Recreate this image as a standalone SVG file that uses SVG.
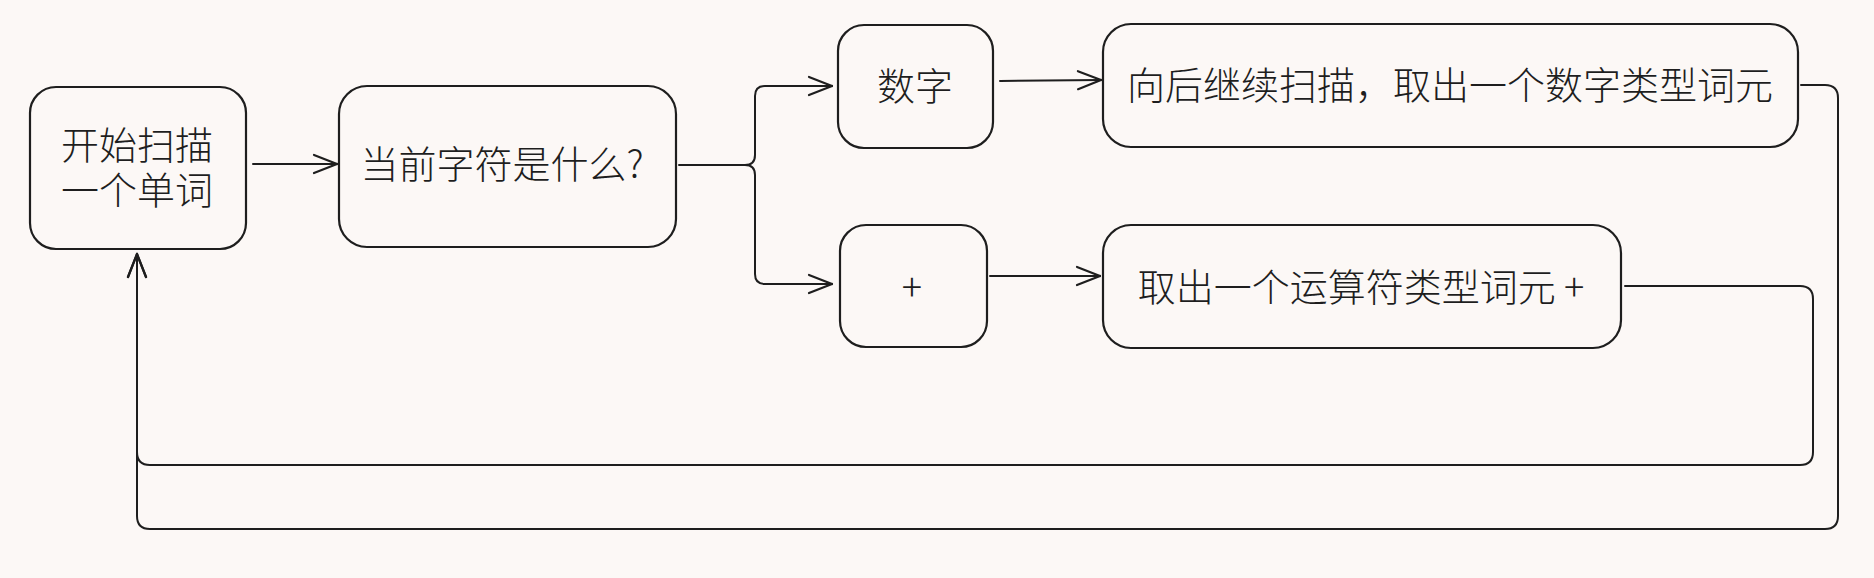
<svg xmlns="http://www.w3.org/2000/svg" width="1874" height="578" viewBox="0 0 1874 578">
  <defs>
    <style>
      .box { fill: none; stroke: #1e1e1e; stroke-width: 2.2; }
      .lbl { font-family: "Noto Sans CJK SC", "Noto Sans", sans-serif; font-size: 38px; font-weight: 300; fill: #1e1e1e; text-anchor: middle; }
      .conn { fill: none; stroke: #1e1e1e; stroke-width: 2; stroke-linecap: round; stroke-linejoin: round; }
    </style>
    <marker id="arr" markerUnits="userSpaceOnUse" markerWidth="40" markerHeight="40" refX="30" refY="20" orient="auto" viewBox="0 0 40 40">
      <path d="M30,20 L7,11 M30,20 L7,29" fill="none" stroke="#1e1e1e" stroke-width="2.2" stroke-linecap="round"/>
    </marker>
  </defs>
  <rect width="1874" height="578" fill="#fcf8f6"/>

  <g id="connectors">
    <path class="conn" d="M253,164 L337,164" marker-end="url(#arr)"/>
    <path class="conn" d="M679,165 L745,165 Q755,165 755,155 L755,96 Q755,86 765,86 L832,86" marker-end="url(#arr)"/>
    <path class="conn" d="M745,165 Q755,165 755,175 L755,274 Q755,284 765,284 L832,284" marker-end="url(#arr)"/>
    <path class="conn" d="M1000,81 L1101,80" marker-end="url(#arr)"/>
    <path class="conn" d="M990,276 L1100,276" marker-end="url(#arr)"/>
    <path class="conn" d="M1625,286 L1800,286 Q1813,286 1813,299 L1813,452 Q1813,465 1800,465 L150,465 Q137,465 137,452 L137,254" marker-end="url(#arr)"/>
    <path class="conn" d="M1801,85 L1825,85 Q1838,85 1838,98 L1838,516 Q1838,529 1825,529 L150,529 Q137,529 137,516 L137,254" marker-end="url(#arr)"/>
  </g>

  <g id="node-start">
    <rect class="box" x="30" y="87" width="216" height="162" rx="26"/>
    <text class="lbl" x="137" y="159"><tspan x="137" y="159">开始扫描</tspan><tspan x="137" y="204">一个单词</tspan></text>
  </g>
  <g id="node-question">
    <rect class="box" x="339" y="86" width="337" height="161" rx="28"/>
    <text class="lbl" x="502" y="178">当前字符是什么?</text>
  </g>
  <g id="node-digit">
    <rect class="box" x="838" y="25" width="155" height="123" rx="26"/>
    <text class="lbl" x="915" y="100">数字</text>
  </g>
  <g id="node-plus">
    <rect class="box" x="840" y="225" width="147" height="122" rx="26"/>
    <text class="lbl" x="912" y="301">+</text>
  </g>
  <g id="node-number-token">
    <rect class="box" x="1103" y="24" width="695" height="123" rx="28"/>
    <text class="lbl" x="1450" y="99">向后继续扫描，取出一个数字类型词元</text>
  </g>
  <g id="node-op-token">
    <rect class="box" x="1103" y="225" width="518" height="123" rx="28"/>
    <text class="lbl" x="1361" y="301">取出一个运算符类型词元 +</text>
  </g>
</svg>
